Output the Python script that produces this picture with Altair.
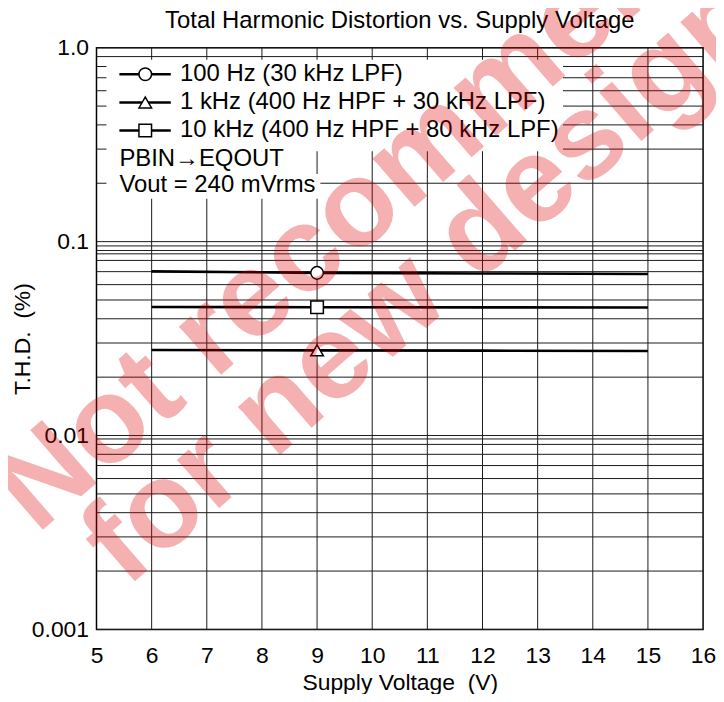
import altair as alt
import pandas as pd

# ---------------- data ----------------
volts = [6, 9, 12, 15]
thd_100hz = [0.0702, 0.0690, 0.0685, 0.0681]
thd_1khz = [0.0276, 0.0275, 0.0274, 0.0273]
thd_10khz = [0.0460, 0.0459, 0.0458, 0.0457]
marker_volt = 9
series_names = ["100 Hz (30 kHz LPF)",
                "1 kHz (400 Hz HPF + 30 kHz LPF)",
                "10 kHz (400 Hz HPF + 80 kHz LPF)"]
series_shapes = ["circle", "triangle-up", "square"]
notes = ["PBIN\u2192EQOUT", "Vout = 240 mVrms"]
x_ticks = list(range(5, 17))
y_decades = [0.001, 0.01, 0.1, 1.0]
extra_grid = [0.095, 0.0865, 0.0096]
chart_title = "Total Harmonic Distortion vs. Supply Voltage"
watermark = ["Not recommended", "for new designs"]

FONT = "Liberation Sans"
W, H = 610, 585

# ---------------- tables ----------------
series_vals = [thd_100hz, thd_1khz, thd_10khz]
lines_df = pd.DataFrame([
    {"series": s, "volt": v, "thd": t}
    for s, vals in zip(series_names, series_vals)
    for v, t in zip(volts, vals)
])
mark_df = pd.DataFrame([
    {"series": s, "volt": marker_volt, "thd": vals[volts.index(marker_volt)]}
    for s, vals in zip(series_names, series_vals)
])

hgrid = sorted(set(
    [round(k * 10 ** e, 6) for e in (-3, -2, -1) for k in range(1, 10)]
    + [1.0] + extra_grid
))
hgrid_df = pd.DataFrame({"g": hgrid})
vgrid_df = pd.DataFrame({"g": x_ticks[1:-1]})

X_TITLE = "Supply Voltage\u00a0 (V)"
Y_TITLE = "T.H.D.\u00a0 (%)"
x_scale = alt.Scale(domain=[5, 16], nice=False, zero=False)
y_scale = alt.Scale(type="log", domain=[0.001, 1.0], nice=False)
shape_scale = alt.Scale(domain=series_names, range=series_shapes)
x_axis = alt.Axis(values=x_ticks, title=X_TITLE, grid=False, ticks=False,
                  domain=False, labelFlush=False, labelPadding=15, titlePadding=4)
y_axis = alt.Axis(values=y_decades, labelExpr="datum.value >= 0.5 ? '1.0' : datum.label",
                  title=Y_TITLE, grid=False, ticks=False, domain=False,
                  labelFlush=False, labelOverlap=False, labelPadding=8, titlePadding=-3)


def X(field):
    return alt.X(field, scale=x_scale, axis=x_axis, title=X_TITLE)


def Y(field):
    return alt.Y(field, scale=y_scale, axis=y_axis, title=Y_TITLE)


# legend layout (in data coordinates)
leg_line_x0, leg_line_x1, leg_mark_x, leg_text_x, note_x = 5.415, 6.347, 5.884, 6.515, 5.415
leg_rows_y = [0.730, 0.522, 0.374]
note_rows_y = [0.2675, 0.1953]
boxes = pd.DataFrame({
    "x0": [5.18, 5.18, 5.18],
    "x1": [13.46, 8.66, 9.06],
    "y0": [0.868, 0.2926, 0.2235],
    "y1": [0.2926, 0.2182, 0.1663],
})
leg_df = pd.DataFrame({"series": series_names, "y": leg_rows_y,
                       "x0": leg_line_x0, "x1": leg_line_x1,
                       "xm": leg_mark_x, "xt": leg_text_x})
note_df = pd.DataFrame({"text": notes, "y": note_rows_y, "x": note_x})

# ---------------- layers ----------------
hgrid_layer = alt.Chart(hgrid_df).mark_rule(color="#1a1a1a", strokeWidth=1).encode(
    y=Y("g:Q"))
vgrid_layer = alt.Chart(vgrid_df).mark_rule(color="#1a1a1a", strokeWidth=1).encode(
    x=X("g:Q"))

box_layer = alt.Chart(boxes).mark_rect(fill="white").encode(
    x=X("x0:Q"), x2="x1:Q", y=Y("y0:Q"), y2="y1:Q")

lines = alt.Chart(lines_df).mark_line(color="black", strokeWidth=2.6).encode(
    x=X("volt:Q"), y=Y("thd:Q"), detail="series:N")

markers = alt.Chart(mark_df).mark_point(
    filled=True, fill="white", stroke="black", strokeWidth=1.5, size=160, opacity=1
).encode(
    x=X("volt:Q"), y=Y("thd:Q"),
    shape=alt.Shape("series:N", scale=shape_scale, legend=None),
)

leg_lines = alt.Chart(leg_df).mark_rule(color="black", strokeWidth=2.6).encode(
    x=X("x0:Q"), x2="x1:Q", y=Y("y:Q"))
leg_marks = alt.Chart(leg_df).mark_point(
    filled=True, fill="white", stroke="black", strokeWidth=1.5, size=160, opacity=1
).encode(
    x=X("xm:Q"), y=Y("y:Q"),
    shape=alt.Shape("series:N", scale=shape_scale, legend=None),
)
leg_text = alt.Chart(leg_df).mark_text(
    align="left", baseline="middle", font=FONT, fontSize=24, color="black"
).encode(x=X("xt:Q"), y=Y("y:Q"), text="series:N")
note_text = alt.Chart(note_df).mark_text(
    align="left", baseline="middle", font=FONT, fontSize=24, color="black"
).encode(x=X("x:Q"), y=Y("y:Q"), text="text:N")

title_layer = alt.Chart(pd.DataFrame({"t": [chart_title]})).mark_text(
    align="center", baseline="middle", font=FONT, fontSize=24, color="black"
).encode(x=alt.value(W / 2), y=alt.value(-27), text="t:N")

wm_style = dict(align="left", baseline="alphabetic", font=FONT, fontSize=122,
                fontWeight="bold", angle=319, color="#e00000", opacity=0.3)
wm1 = alt.Chart(pd.DataFrame({"t": [watermark[0]]})).mark_text(**wm_style).encode(
    x=alt.value(-60), y=alt.value(490), text="t:N")
wm2 = alt.Chart(pd.DataFrame({"t": [watermark[1]]})).mark_text(**wm_style).encode(
    x=alt.value(30), y=alt.value(544), text="t:N")

chart = alt.layer(
    hgrid_layer, vgrid_layer, box_layer, lines, markers,
    leg_lines, leg_marks, leg_text, note_text, title_layer, wm1, wm2
).properties(
    width=W, height=H,
    autosize=alt.AutoSizeParams(type="none"),
    padding={"left": 89, "top": 38, "right": 13, "bottom": 63},
).configure_view(
    stroke="black", strokeWidth=1.5
).configure_axis(
    labelFont=FONT, labelFontSize=23, labelColor="black",
    titleFont=FONT, titleFontSize=23, titleFontWeight="normal", titleColor="black",
)

chart.save("out.html", embed_options={"renderer": "svg", "actions": False})
